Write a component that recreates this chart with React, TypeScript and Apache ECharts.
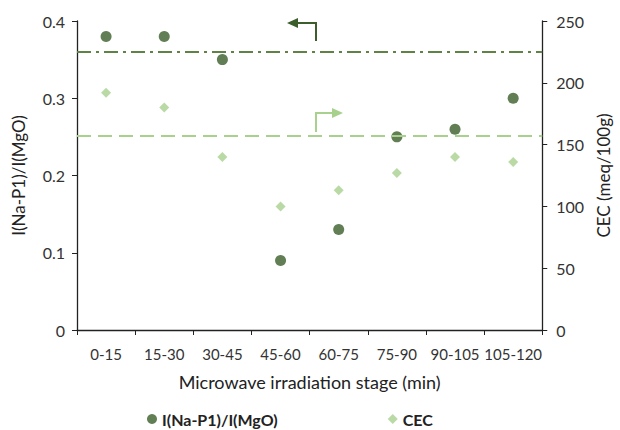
import React, { useEffect, useRef } from "react";
import * as echarts from "echarts";

const categories = ["0-15", "15-30", "30-45", "45-60", "60-75", "75-90", "90-105", "105-120"];
const ratioValues = [0.38, 0.38, 0.35, 0.09, 0.13, 0.25, 0.26, 0.3];
const cecValues = [192, 180, 140, 100, 113, 127, 140, 136];
const ratioReference = 0.365;
const cecReference = 157;

const FONT = "Lato";
const DARK = "#3b5e2b";
const LIGHT = "#a9d18e";
const DASHDOT = "#5f8247";

export default function App() {
  const ref = useRef<HTMLDivElement>(null);
  useEffect(() => {
    if (!ref.current) return;
    const chart = echarts.init(ref.current, null, { renderer: "svg" });
    chart.setOption({
      animation: false,
      textStyle: { fontFamily: FONT },
      grid: { left: 77, right: 74, top: 21, bottom: 100 },
      legend: {
        bottom: -2,
        left: 142,
        itemGap: 110,
        itemWidth: 10,
        itemHeight: 10,
        textStyle: { fontFamily: FONT, fontSize: 16, fontWeight: "bold", color: "#222" },
        data: [
          { name: "I(Na-P1)/I(MgO)", icon: "circle" },
          { name: "CEC", icon: "diamond" },
        ],
      },
      xAxis: {
        type: "category",
        data: categories,
        name: "Microwave irradiation stage (min)",
        nameLocation: "middle",
        nameGap: 43,
        nameTextStyle: { fontFamily: FONT, fontSize: 18, color: "#222" },
        axisLine: { lineStyle: { color: "#222", width: 1.3 } },
        axisTick: { show: true, length: 5, lineStyle: { color: "#222" } },
        axisLabel: { fontFamily: FONT, fontSize: 15, color: "#333", margin: 16, interval: 0 },
      },
      yAxis: [
        {
          type: "value",
          min: 0,
          max: 0.4,
          interval: 0.1,
          name: "I(Na-P1)/I(MgO)",
          nameLocation: "middle",
          nameGap: 50,
          nameTextStyle: { fontFamily: FONT, fontSize: 17, color: "#222" },
          axisLine: { show: true, lineStyle: { color: "#222", width: 1.3 } },
          axisTick: { show: true, length: 5, lineStyle: { color: "#222" } },
          axisLabel: { fontFamily: FONT, fontSize: 16, color: "#333", margin: 12 },
          splitLine: { show: false },
        },
        {
          type: "value",
          min: 0,
          max: 250,
          interval: 50,
          name: "CEC (meq/100g)",
          nameLocation: "middle",
          nameGap: 50,
          nameRotate: 90,
          nameTextStyle: { fontFamily: FONT, fontSize: 17, color: "#222" },
          axisLine: { show: true, lineStyle: { color: "#222", width: 1.3 } },
          axisTick: { show: true, length: 5, lineStyle: { color: "#222" } },
          axisLabel: { fontFamily: FONT, fontSize: 16, color: "#333", margin: 14 },
          splitLine: { show: false },
        },
      ],
      series: [
        {
          name: "CEC",
          type: "scatter",
          yAxisIndex: 1,
          data: cecValues,
          symbol: "diamond",
          symbolSize: 10,
          itemStyle: { color: LIGHT },
          markLine: {
            silent: true,
            symbol: "none",
            label: { show: false },
            lineStyle: { color: LIGHT, type: [14, 7], width: 2 },
            data: [{ yAxis: cecReference }],
          },
        },
        {
          name: "I(Na-P1)/I(MgO)",
          type: "scatter",
          yAxisIndex: 0,
          data: ratioValues,
          symbol: "circle",
          symbolSize: 11,
          itemStyle: { color: DARK },
          markLine: {
            silent: true,
            symbol: "none",
            label: { show: false },
            lineStyle: { color: DASHDOT, type: [14, 5, 3, 5], width: 2 },
            data: [{ yAxis: ratioReference }],
          },
        },
      ],
      graphic: [
        {
          type: "polyline",
          shape: { points: [[316, 41], [316, 23], [296, 23]] },
          style: { stroke: DARK, lineWidth: 2, fill: null },
        },
        {
          type: "polygon",
          shape: { points: [[287, 23], [298, 18], [298, 28]] },
          style: { fill: DARK },
        },
        {
          type: "polyline",
          shape: { points: [[316, 132], [316, 113], [333, 113]] },
          style: { stroke: LIGHT, lineWidth: 2, fill: null },
        },
        {
          type: "polygon",
          shape: { points: [[343, 113], [332, 108], [332, 118]] },
          style: { fill: LIGHT },
        },
      ],
    });
    return () => chart.dispose();
  }, []);
  return <div ref={ref} style={{ width: 620, height: 430, position: "absolute", left: 0, top: 0, background: "#fff" }} />;
}
